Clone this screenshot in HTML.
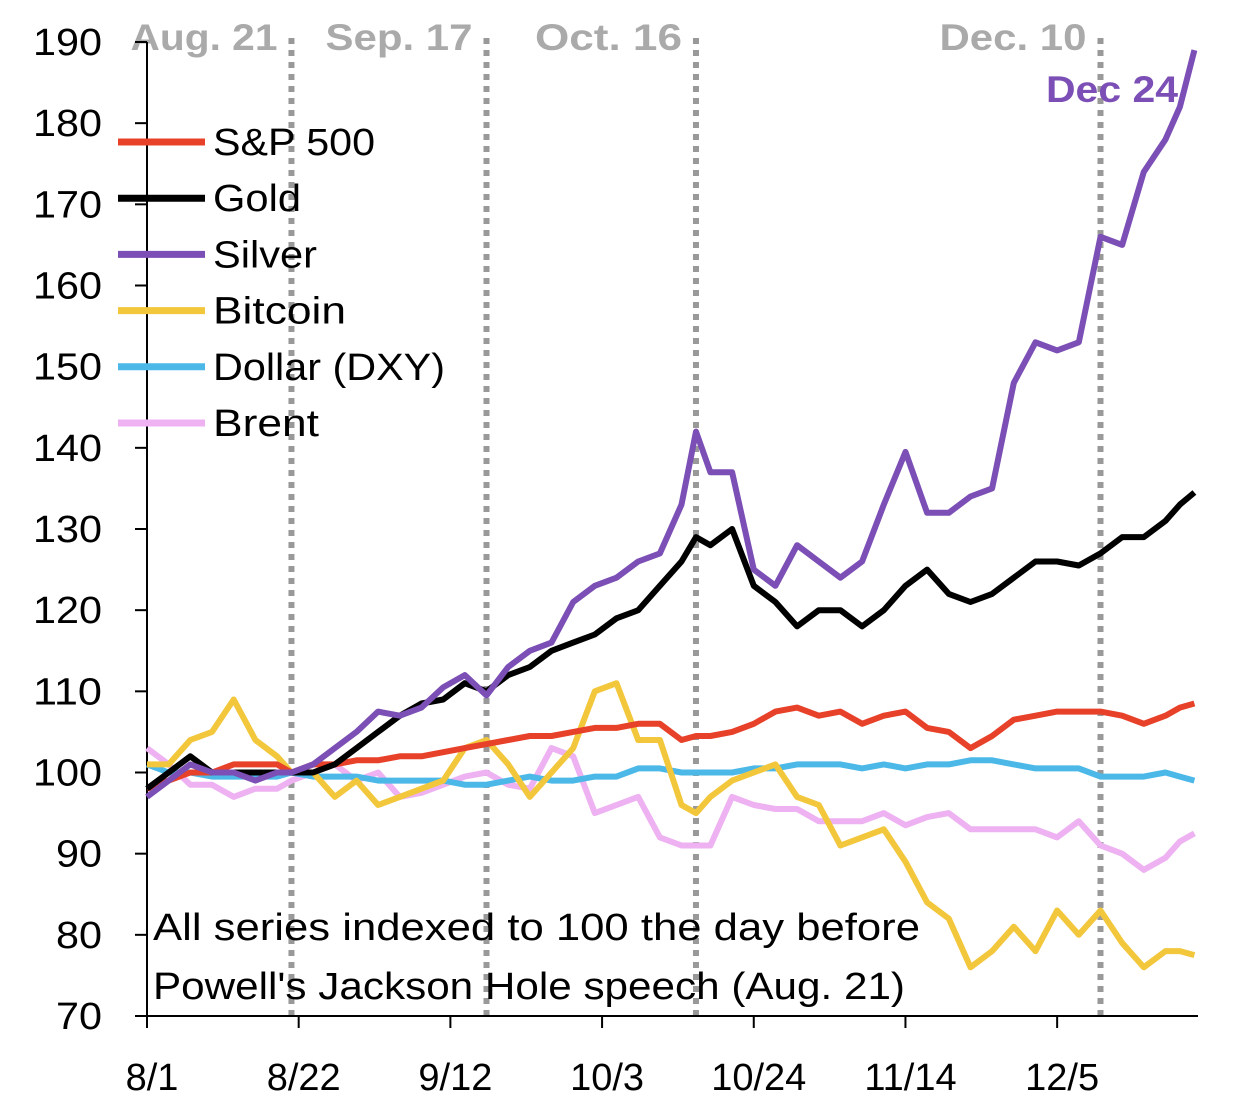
<!DOCTYPE html>
<html><head><meta charset="utf-8"><style>
body{margin:0;background:#fff;}
svg{display:block;font-family:"Liberation Sans",sans-serif;}
</style></head><body>
<svg id="c" width="1248" height="1116"></svg>
<script>
const days=[0,3,6,9,12,15,18,20,23,26,29,32,35,38,41,44,47,50,53,56,59,62,65,68,71,74,76,78,81,84,87,90,93,96,99,102,105,108,111,114,117,120,123,126,129,132,135,138,141,143,145];
const silver=[97,99,101,100,100,99,100,100,101,103,105,107.5,107,108,110.5,112,109.5,113,115,116,121,123,124,126,127,133,142,137,137,125,123,128,126,124,126,133,139.5,132,132,134,135,148,153,152,153,166,165,174,178,182,189];
const gold=[98,100,102,100,100,100,100,100,100,101,103,105,107,108.5,109,111,110,112,113,115,116,117,119,120,123,126,129,128,130,123,121,118,120,120,118,120,123,125,122,121,122,124,126,126,125.5,127,129,129,131,133,134.5];
const sp500=[98,99,100,100,101,101,101,100,101,101,101.5,101.5,102,102,102.5,103,103.5,104,104.5,104.5,105,105.5,105.5,106,106,104,104.5,104.5,105,106,107.5,108,107,107.5,106,107,107.5,105.5,105,103,104.5,106.5,107,107.5,107.5,107.5,107,106,107,108,108.5];
const bitcoin=[101,101,104,105,109,104,102,100,100,97,99,96,97,98,99,103,104,101,97,100,103,110,111,104,104,96,95,97,99,100,101,97,96,91,92,93,89,84,82,76,78,81,78,83,80,83,79,76,78,78,77.5];
const dollar=[101,100,100,99.5,99.5,99.5,99.5,100,99.5,99.5,99.5,99,99,99,99,98.5,98.5,99,99.5,99,99,99.5,99.5,100.5,100.5,100,100,100,100,100.5,100.5,101,101,101,100.5,101,100.5,101,101,101.5,101.5,101,100.5,100.5,100.5,99.5,99.5,99.5,100,99.5,99];
const brent=[103,101,98.5,98.5,97,98,98,99,100,101,99,100,97,97.5,98.5,99.5,100,98.5,98,103,102,95,96,97,92,91,91,91,97,96,95.5,95.5,94,94,94,95,93.5,94.5,95,93,93,93,93,92,94,91,90,88,89.5,91.5,92.5];
const yTicks=[70,80,90,100,110,120,130,140,150,160,170,180,190];
const xTickDays=[0,21,42,63,84,105,126];
const xTickLabels=["8/1","8/22","9/12","10/3","10/24","11/14","12/5"];
const eventDays=[20,47,76,132];
const eventLabels=["Aug. 21","Sep. 17","Oct. 16","Dec. 10"];
const seriesNames=["S&P 500","Gold","Silver","Bitcoin","Dollar (DXY)","Brent"];
const seriesColors=["#e8412a","#000000","#7b4fb5","#f2c73c","#4bb8e8","#eeb2f2"];
const seriesData=[sp500,gold,silver,bitcoin,dollar,brent];

const X0=147,X1=1198,Y0=1016,Y1=42;
const x=d=>X0+(d/145.5)*(X1-X0);
const y=v=>Y0-(v-70)/(190-70)*(Y0-Y1);
const svg=document.getElementById('c');
const NS='http://www.w3.org/2000/svg';
function mk(t,a){const e=document.createElementNS(NS,t);for(const k in a)e.setAttribute(k,a[k]);svg.appendChild(e);return e;}
function fit(t){t.setAttribute('lengthAdjust','spacingAndGlyphs');}

eventDays.forEach((d,i)=>{
  const l=mk('line',{x1:x(d),x2:x(d),y1:38,y2:Y0,stroke:'#999','stroke-width':6,'stroke-dasharray':'6 6'});
  
  
  const t=mk('text',{x:x(d)-14,y:50,'text-anchor':'end','font-size':37,'font-weight':'bold',fill:'#aaa',textLength:eventLabels[i].length*21});
  fit(t);
  t.textContent=eventLabels[i];
  
  
});

const ya=mk('line',{x1:X0,x2:X0,y1:Y1,y2:Y0+12,stroke:'#000','stroke-width':2});


const xa=mk('line',{x1:X0,x2:X1,y1:Y0,y2:Y0,stroke:'#000','stroke-width':2});


yTicks.forEach(v=>{
  mk('line',{x1:X0-12,x2:X0,y1:y(v),y2:y(v),stroke:'#000','stroke-width':2});
  const s=String(v);
  const t=mk('text',{x:102,y:y(v)+13,'text-anchor':'end','font-size':38,fill:'#000',textLength:s.length*23});
  fit(t);
  t.textContent=s;
  
  
});
xTickDays.forEach((d,i)=>{
  mk('line',{x1:x(d),x2:x(d),y1:Y0,y2:Y0+12,stroke:'#000','stroke-width':2});
  const t=mk('text',{x:x(d)+5,y:1090,'text-anchor':'middle','font-size':38,fill:'#000'});
  t.textContent=xTickLabels[i];
  
  
});

[5,4,3,0,1,2].forEach(i=>{
  const pts=seriesData[i].map((v,j)=>x(days[j]).toFixed(1)+','+y(v).toFixed(1)).join(' ');
  const p=mk('polyline',{points:pts,fill:'none',stroke:seriesColors[i],'stroke-width':6,'stroke-linejoin':'round'});
  
  
});

const legLens=[162,88,104,133,232,106];
seriesNames.forEach((n,i)=>{
  const yy=142+i*56.2;
  mk('line',{x1:118,x2:205,y1:yy,y2:yy,stroke:seriesColors[i],'stroke-width':7});
  const t=mk('text',{x:213,y:yy+13,'font-size':38,fill:'#000',textLength:legLens[i]});
  fit(t);
  t.textContent=n;
  
  
});

const d24=mk('text',{x:1178,y:102,'text-anchor':'end','font-size':37,'font-weight':'bold',fill:'#7b4fb5',textLength:132});
fit(d24);
d24.textContent='Dec 24';



const notes=['All series indexed to 100 the day before',"Powell's Jackson Hole speech (Aug. 21)"];
const noteLens=[767,752];
notes.forEach((s,i)=>{
  const t=mk('text',{x:153,y:940+i*59,'font-size':38,fill:'#000',textLength:noteLens[i]});
  fit(t);
  t.textContent=s;
  
  
});
</script>
</body></html>
